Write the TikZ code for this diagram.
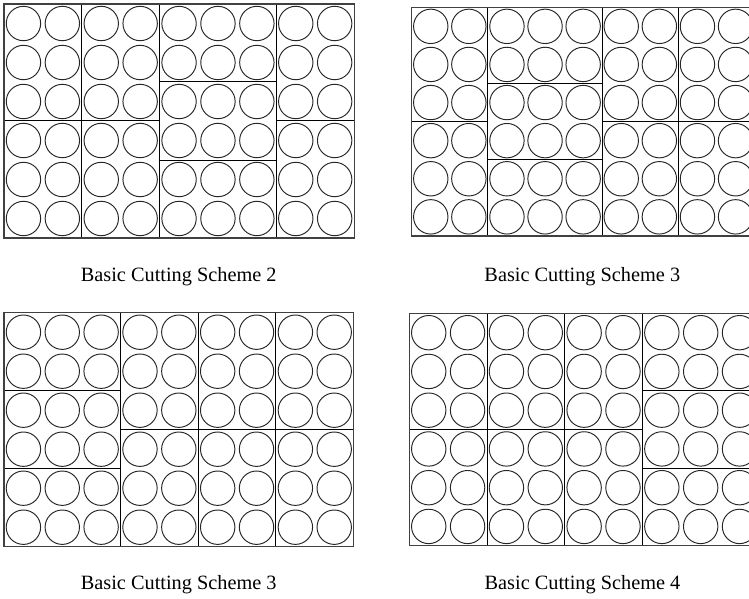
\documentclass[tikz,border=0pt]{standalone}
\usepackage{fontspec}
\setmainfont{Liberation Serif}
\tikzset{
  blockline/.style={draw=black, line width=1pt},
  outerline/.style={draw=black!75, line width=1.2pt},
  circ/.style={draw=black!85, line width=0.95pt},
  caption/.style={font=\fontsize{20.3}{24}\selectfont, anchor=base, inner sep=0pt}
}
\newcommand{\cutpanel}[5]{%
  \begin{scope}[shift={(#1,#2)}]
    \foreach \bx/\by/\bw/\bh in {#5} {
      \draw[blockline] ({\bx*#3},{\by*#4}) rectangle ({(\bx+\bw)*#3},{(\by+\bh)*#4});
      \foreach \i in {1,...,\bw} {
        \foreach \j in {1,...,\bh} {
          \draw[circ] ({(\bx+\i-0.5)*#3},{(\by+\j-0.5)*#4}) circle[radius=17.2pt];
        }
      }
    }
    \draw[outerline] (0,0) rectangle ({9*#3},{6*#4});
  \end{scope}}
\begin{document}
\begin{tikzpicture}[x=1pt,y=-1pt]
  \useasboundingbox (0,0) rectangle (749,599);
  \clip (0,0) rectangle (749,599);
  \fill[white] (0,0) rectangle (749,599);
  % Panel 1
  \cutpanel{4}{4}{38.9}{39}{0/0/2/3,0/3/2/3,2/0/2/3,2/3/2/3,4/0/3/2,4/2/3/2,4/4/3/2,7/0/2/3,7/3/2/3}
  % Panel 2
  \cutpanel{411.7}{7.3}{38.1}{38.1}{0/0/2/3,0/3/2/3,2/0/3/2,2/2/3/2,2/4/3/2,5/0/2/3,5/3/2/3,7/0/2/3,7/3/2/3}
  % Panel 3
  \cutpanel{4}{312.7}{38.85}{39}{0/0/3/2,0/2/3/2,0/4/3/2,3/0/2/3,3/3/2/3,5/0/2/3,5/3/2/3,7/0/2/3,7/3/2/3}
  % Panel 4
  \cutpanel{409.3}{313.3}{38.85}{38.75}{0/0/2/3,0/3/2/3,2/0/2/3,2/3/2/3,4/0/2/3,4/3/2/3,6/0/3/2,6/2/3/2,6/4/3/2}
  % Captions
  \node[caption] (cap1) at (178.7,281.7) {Basic Cutting Scheme 2};
  \node[caption] (cap2) at (582.3,281.7) {Basic Cutting Scheme 3};
  \node[caption] (cap3) at (178.7,589) {Basic Cutting Scheme 3};
  \node[caption] (cap4) at (582.5,589) {Basic Cutting Scheme 4};
\end{tikzpicture}
\end{document}
